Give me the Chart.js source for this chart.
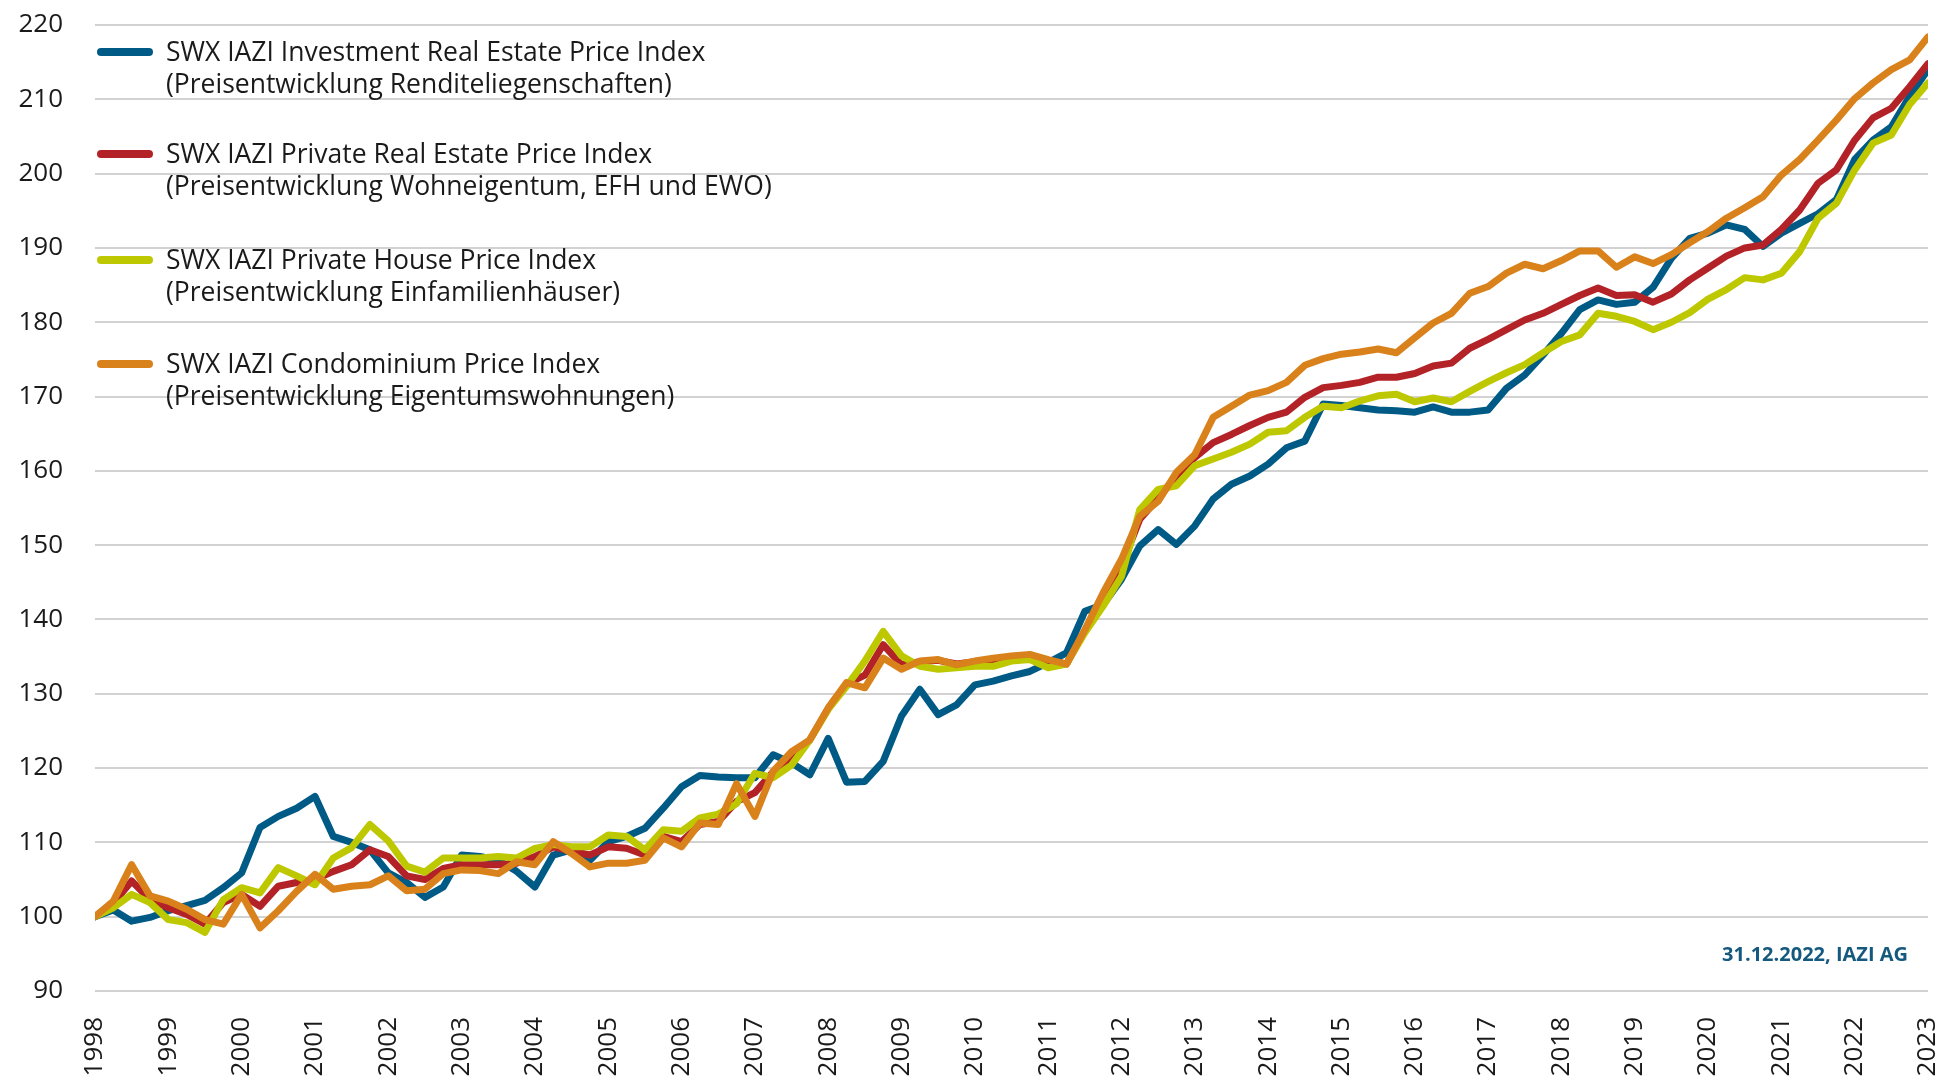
<!DOCTYPE html>
<html>
<head>
<meta charset="utf-8">
<script src="https://cdn.jsdelivr.net/npm/chart.js@4/dist/chart.umd.min.js"></script>
<style>
  html, body { margin: 0; padding: 0; background: #ffffff; }
  #wrap { position: relative; width: 1948px; height: 1081px; overflow: hidden; }
  #chart { position: absolute; left: 0; top: 0; }
  .leg { position: absolute; left: 0; top: 0; font-family: "Open Sans", "DejaVu Sans", sans-serif; font-size: 26.5px; color: #1a1a1a; }
  .item { position: absolute; left: 97px; }
  .sw { position: absolute; left: 0; width: 56px; height: 8px; border-radius: 4px; }
  .txt { position: absolute; left: 69px; white-space: nowrap; line-height: 32px; }
  #note { position: absolute; right: 40px; top: 940px; font-family: "Open Sans", "Noto Sans", sans-serif; font-weight: 700; font-size: 20px; color: #15597f; white-space: nowrap; }
</style>
</head>
<body>
<div id="wrap">
  <canvas id="chart" width="1948" height="1081"></canvas>
  <div class="leg" id="legend"></div>
  <div id="note">31.12.2022, IAZI AG</div>
</div>
<script>
// ---- data (quarterly, base 100 at start of 1998) ----
const seriesNames = [
  ["SWX IAZI Investment Real Estate Price Index", "(Preisentwicklung Renditeliegenschaften)"],
  ["SWX IAZI Private Real Estate Price Index", "(Preisentwicklung Wohneigentum, EFH und EWO)"],
  ["SWX IAZI Private House Price Index", "(Preisentwicklung Einfamilienhäuser)"],
  ["SWX IAZI Condominium Price Index", "(Preisentwicklung Eigentumswohnungen)"]
];
const seriesColors = ["#005a86", "#b32226", "#bdc800", "#d9821b"];

const investment = [100,100.9,99.4,99.9,100.8,101.5,102.2,103.9,105.9,112,
  113.5,114.6,116.2,110.8,110,109,105.9,104.6,102.6,104,
  108.3,108.1,107.6,106.1,104,108.3,109,107.6,110.1,110.8,
  111.9,114.6,117.5,119,118.8,118.7,118.7,121.8,120.7,119.1,
  124,118.1,118.2,120.9,127,130.6,127.2,128.5,131.2,131.7,
  132.4,133,134.2,135.5,141.1,142,145.4,149.9,152.1,150.1,
  152.6,156.2,158.2,159.3,160.9,163.1,164,169,168.8,168.5,
  168.2,168.1,167.9,168.6,167.9,167.9,168.2,171.1,172.9,175.6,
  178.5,181.7,183,182.4,182.7,184.7,188.6,191.3,192,193.1,
  192.5,190.2,192,193.3,194.6,196.5,201.9,204.5,206.3,210.4,
  214];
const privateRE = [100,101.8,104.8,102.3,101.2,100.3,99,101.9,103,101.4,
  104.1,104.6,105,106.1,107,109,108.1,105.5,105,106.5,
  107,107,107,107.2,108.1,109.4,108.8,108.3,109.4,109.2,
  108.3,110.8,110.1,112.4,112.8,115.5,116.7,119.5,121.5,123.8,
  128,131.3,132.5,136.6,133.9,134.3,134.5,134,134.3,134.6,
  135,135.1,134.5,134,138.5,143,147.2,153.5,156.3,159.3,
  161.8,163.8,164.9,166.1,167.2,167.9,169.9,171.2,171.5,171.9,
  172.6,172.6,173.1,174.1,174.5,176.5,177.7,179,180.3,181.2,
  182.4,183.6,184.6,183.6,183.7,182.7,183.8,185.7,187.3,188.9,
  190,190.4,192.5,195.1,198.7,200.5,204.5,207.5,208.8,211.7,
  214.8];
const houses = [100,101.2,103,101.9,99.6,99.2,97.9,102.3,103.9,103.2,
  106.6,105.5,104.3,107.9,109.3,112.4,110.2,106.8,106,107.9,
  107.9,107.9,108.1,107.9,109.2,109.7,109.4,109.4,111,110.8,
  109,111.7,111.5,113.3,113.8,115.2,119.3,118.7,120.4,123.8,
  127.9,131,134.4,138.4,135.1,133.7,133.3,133.5,133.7,133.7,
  134.4,134.6,133.5,134,138.2,141.8,145.8,154.8,157.5,158,
  160.7,161.6,162.5,163.6,165.2,165.4,167.2,168.7,168.5,169.4,
  170.1,170.3,169.3,169.8,169.3,170.7,172,173.2,174.3,175.9,
  177.4,178.3,181.2,180.8,180.1,179,180,181.3,183.1,184.4,
  186,185.7,186.6,189.5,194,196,200.5,204.1,205.2,209.3,
  212.2];
const condos = [100,102.1,107,102.8,102.1,101,99.6,99,103,98.5,
  100.8,103.4,105.7,103.7,104.1,104.3,105.5,103.5,103.7,105.8,
  106.3,106.2,105.8,107.4,107,110.1,108.5,106.7,107.2,107.2,
  107.6,110.6,109.4,112.6,112.4,117.9,113.5,119.6,122.2,123.8,
  128.1,131.5,130.8,134.8,133.3,134.4,134.6,133.9,134.4,134.8,
  135.1,135.3,134.6,134,138.6,143.6,148.1,153.9,155.9,159.8,
  162.2,167.2,168.7,170.2,170.8,171.9,174.2,175.1,175.7,176,
  176.4,175.9,177.9,179.9,181.2,183.9,184.8,186.6,187.8,187.2,
  188.3,189.6,189.6,187.4,188.8,187.9,189.1,190.7,192.2,194,
  195.4,196.9,199.8,201.9,204.5,207.2,210.1,212.2,214,215.3,
  218.4];

const startYear = 1998;
const endYear = 2023;
// quarter positions on the time axis (one per observation)
const quarterX = [];
for (let i = 0; i < investment.length; i++) quarterX.push(startYear + i / 4);

const yMin = 90, yMax = 220, yStep = 10;

// ---- build chart ----
const allSeries = [investment, privateRE, houses, condos];
const drawOrder = [3, 2, 1, 0]; // condos on top
const datasets = allSeries.map((arr, k) => ({
  label: seriesNames[k].join(" "),
  data: arr.map((v, i) => ({ x: quarterX[i], y: v })),
  borderColor: seriesColors[k],
  backgroundColor: seriesColors[k],
  borderWidth: 7,
  pointRadius: 0,
  tension: 0,
  borderJoinStyle: "round",
  borderCapStyle: "round",
  order: drawOrder[k]
}));

const tickFont = { family: "'Open Sans', 'DejaVu Sans', sans-serif", size: 26 };

new Chart(document.getElementById("chart"), {
  type: "line",
  data: { datasets },
  options: {
    responsive: false,
    animation: false,
    layout: { padding: { top: 25, right: 20, left: 0, bottom: 0 } },
    plugins: { legend: { display: false }, tooltip: { enabled: false } },
    scales: {
      x: {
        type: "linear",
        min: startYear,
        max: endYear,
        grid: { display: false, drawTicks: false },
        border: { display: false },
        afterFit: (axis) => { axis.height = 90; axis.paddingLeft = 0; axis.paddingRight = 0; },
        ticks: {
          stepSize: 1,
          autoSkip: false,
          maxTicksLimit: 40,
          minRotation: 90,
          maxRotation: 90,
          padding: 26,
          color: "#1a1a1a",
          font: tickFont,
          callback: (v) => String(v)
        }
      },
      y: {
        min: yMin,
        max: yMax,
        grid: { color: "#d2d2d2", lineWidth: 2, drawTicks: false },
        border: { display: false },
        afterFit: (axis) => { axis.width = 95; axis.paddingTop = 0; axis.paddingBottom = 0; },
        ticks: {
          stepSize: yStep,
          padding: 32,
          color: "#1a1a1a",
          font: tickFont
        }
      }
    }
  }
});

// ---- HTML legend (two-line labels) ----
const legendBaselines = [62, 164, 270, 374];
const legend = document.getElementById("legend");
seriesNames.forEach((lines, k) => {
  const item = document.createElement("div");
  item.className = "item";
  item.style.top = (legendBaselines[k] - 27) + "px";
  const sw = document.createElement("div");
  sw.className = "sw";
  sw.style.background = seriesColors[k];
  sw.style.top = "13px";
  const txt = document.createElement("div");
  txt.className = "txt";
  txt.style.top = "0px";
  txt.innerHTML = lines[0] + "<br>" + lines[1];
  item.appendChild(sw);
  item.appendChild(txt);
  legend.appendChild(item);
});
</script>
</body>
</html>
